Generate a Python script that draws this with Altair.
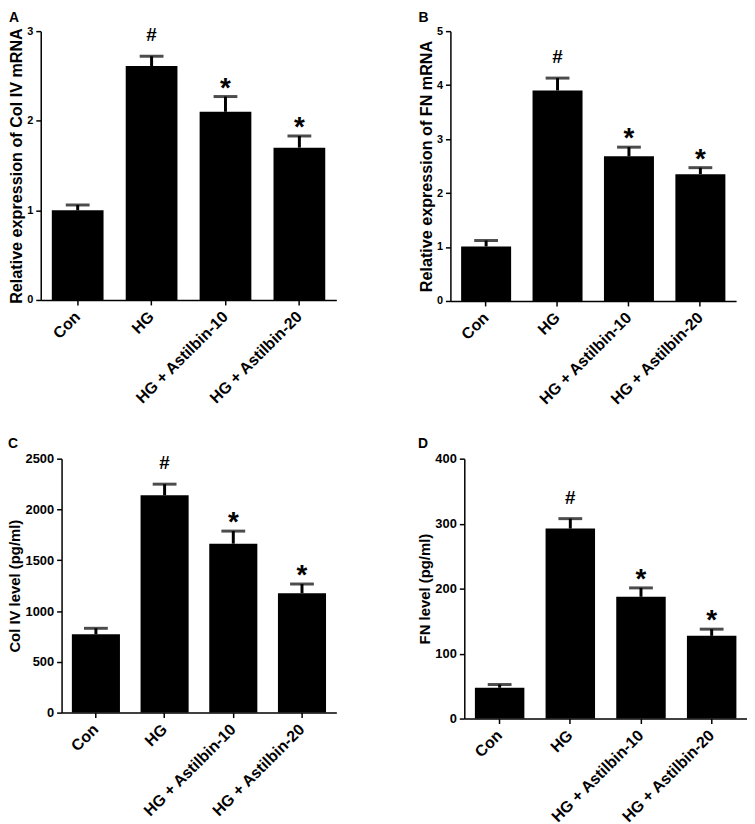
import altair as alt
import pandas as pd

FONT = "Liberation Sans"

groups = ["Con", "HG", "HG + Astilbin-10", "HG + Astilbin-20"]
marks = ["", "#", "*", "*"]

a_mean = [1.00, 2.61, 2.10, 1.70]
a_err = [0.06, 0.11, 0.17, 0.13]
b_mean = [1.01, 3.90, 2.68, 2.35]
b_err = [0.11, 0.23, 0.17, 0.12]
c_mean = [771, 2139, 1663, 1175]
c_err = [59, 110, 124, 91]
d_mean = [47.4, 292.4, 187.4, 127.3]
d_err = [5.0, 15.3, 13.7, 10.3]


def panel(letter, mean, err, ytitle, ymax, ystep, w, h, label_size, title_size,
          title_offset, shift=0):
    df = pd.DataFrame({"group": groups, "mean": mean, "err": err, "mark": marks})
    df["top"] = df["mean"] + df["err"]
    base = alt.Chart(df)
    x = alt.X(
        "group:N", sort=groups, title=None,
        scale=alt.Scale(paddingInner=0.3, paddingOuter=0.15, range=[shift, w]),
        axis=alt.Axis(
            labelAngle=-45, labelFontSize=16, labelFont=FONT, labelFontWeight="bold",
            labelColor="black", labelAlign="right", labelBaseline="middle",
            domainColor="black", domainWidth=1.5, tickColor="black", tickWidth=1.5,
            tickSize=5, labelPadding=9,
        ),
    )
    ticks = list(range(0, ymax + 1, ystep))
    y = alt.Y(
        "mean:Q", title=ytitle,
        scale=alt.Scale(domain=[0, ymax], nice=False),
        axis=alt.Axis(
            values=ticks, format="d", grid=False, labelFontSize=label_size, labelFont=FONT,
            labelFontWeight="bold", labelColor="black", labelPadding=3,
            domainColor="black", domainWidth=1.5, tickColor="black", tickWidth=1.5,
            tickSize=5, titleFont=FONT, titleFontSize=title_size, titleFontWeight="bold",
            titleColor="black", titlePadding=2, offset=-shift,
        ),
    )
    bars = base.mark_bar(color="black").encode(x=x, y=y)
    stem = base.mark_rule(color="black", strokeWidth=3).encode(x=x, y="mean:Q", y2="top:Q")
    cap = base.mark_tick(color="black", size=24, thickness=3).encode(x=x, y="top:Q")
    hash_t = base.transform_filter(alt.datum.mark == "#").mark_text(
        font=FONT, fontWeight="bold", fontSize=19, dy=-15, baseline="alphabetic", color="black"
    ).encode(x=x, y="top:Q", text="mark:N")
    star_t = base.transform_filter(alt.datum.mark == "*").mark_text(
        font=FONT, fontWeight="bold", fontSize=28, dy=0, baseline="alphabetic", color="black"
    ).encode(x=x, y="top:Q", text="mark:N")
    return alt.layer(bars, stem, cap, hash_t, star_t).properties(
        width=w, height=h,
        title=alt.TitleParams(letter, anchor="start", frame="bounds", fontSize=14, font=FONT,
                              fontWeight="bold", color="black", offset=title_offset),
    )


pa = panel("A", a_mean, a_err, "Relative expression of Col IV mRNA", 3, 1, 298, 271, 11, 16.3, 0)
pb = panel("B", b_mean, b_err, "Relative expression of FN mRNA", 5, 1, 288, 272, 11, 16.3, 0)
pc = panel("C", c_mean, c_err, "Col IV level (pg/ml)", 2500, 500, 298, 256, 13, 15, 2, shift=21)
pd_ = panel("D", d_mean, d_err, "FN level (pg/ml)", 400, 100, 299, 262, 13, 15, 2, shift=14)

chart = alt.concat(pa, pb, pc, pd_, columns=2, spacing={"row": 29, "column": 82}).properties(
    padding=0, align="none"
).configure_view(stroke=None)

chart.save("out.html", embed_options={"renderer": "svg", "actions": False})
